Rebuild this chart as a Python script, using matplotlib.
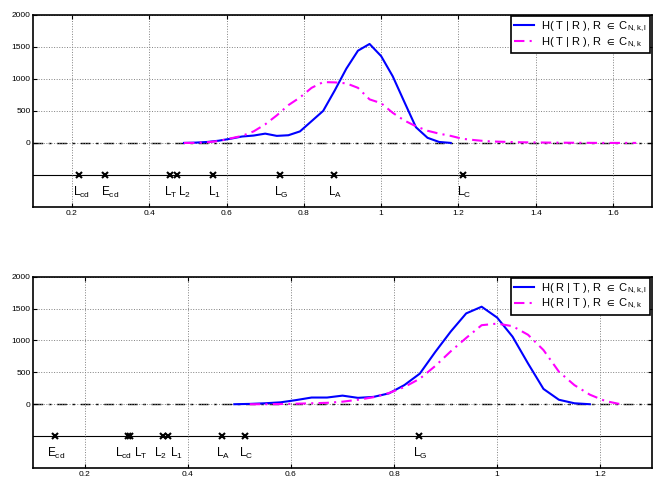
import numpy as np
import matplotlib
matplotlib.use('Agg')
import matplotlib.pyplot as plt

plt.rcParams['font.family'] = ['Liberation Sans', 'DejaVu Sans']
plt.rcParams['mathtext.default'] = 'regular'

# --- top panel: H(T|R) ---
top_x_kl = [0.49, 0.52, 0.55, 0.58, 0.61, 0.64, 0.67, 0.70, 0.73, 0.76, 0.79, 0.82,
            0.85, 0.88, 0.91, 0.94, 0.97, 1.00, 1.03, 1.06, 1.09, 1.12, 1.15, 1.18]
top_y_kl = [0, 5, 15, 35, 65, 100, 115, 145, 110, 120, 180, 340,
            500, 820, 1160, 1440, 1545, 1355, 1040, 640, 245, 80, 15, 0]
top_x_k = [0.49, 0.52, 0.55, 0.58, 0.61, 0.64, 0.67, 0.70, 0.73, 0.76, 0.79, 0.82,
           0.85, 0.88, 0.91, 0.94, 0.97, 1.00, 1.03, 1.06, 1.09, 1.12, 1.15, 1.18,
           1.21, 1.24, 1.27, 1.30, 1.33, 1.36, 1.39, 1.42, 1.45, 1.48, 1.51, 1.54,
           1.57, 1.60, 1.63, 1.66]
top_y_k = [0, 0, 10, 30, 70, 110, 180, 290, 430, 590, 710, 860,
           950, 945, 930, 860, 680, 620, 470, 350, 260, 190, 145, 110,
           65, 45, 28, 20, 15, 10, 8, 6, 4, 3, 2, 1,
           0, 0, 0, 0]
top_names = ['L_{cd}', 'E_{cd}', 'L_T', 'L_2', 'L_1', 'L_G', 'L_A', 'L_C']
top_pos = [0.218, 0.286, 0.454, 0.473, 0.566, 0.738, 0.878, 1.212]
top_xticks = [0.2, 0.4, 0.6, 0.8, 1.0, 1.2, 1.4, 1.6]

# --- bottom panel: H(R|T) ---
bot_x_kl = [0.49, 0.52, 0.55, 0.58, 0.61, 0.64, 0.67, 0.70, 0.73, 0.76, 0.79, 0.82,
            0.85, 0.88, 0.91, 0.94, 0.97, 1.00, 1.03, 1.06, 1.09, 1.12, 1.15, 1.18]
bot_y_kl = [0, 5, 15, 30, 65, 105, 105, 135, 100, 115, 170, 300,
            480, 820, 1140, 1425, 1530, 1360, 1060, 640, 240, 70, 15, 0]
bot_x_k = [0.52, 0.55, 0.58, 0.61, 0.64, 0.67, 0.70, 0.73, 0.76, 0.79, 0.82, 0.85,
           0.88, 0.91, 0.94, 0.97, 1.00, 1.03, 1.06, 1.09, 1.12, 1.15, 1.18, 1.21, 1.24]
bot_y_k = [0, 0, 3, 8, 15, 22, 40, 70, 110, 175, 270, 400,
           600, 830, 1040, 1240, 1265, 1225, 1090, 850, 510, 300, 150, 50, 0]
bot_names = ['E_{cd}', 'L_{cd}', 'L_T', 'L_2', 'L_1', 'L_A', 'L_C', 'L_G']
bot_pos = [0.143, 0.283, 0.288, 0.352, 0.362, 0.466, 0.511, 0.848]
bot_xticks = [0.2, 0.4, 0.6, 0.8, 1.0, 1.2]

yticks = [0, 500, 1000, 1500, 2000]

# label nudges in pixels (hand placed in the original)
top_offs = [-6, -4, -6, 1, -5, -6, -6, -6]
bot_offs = [-8, -13, 4, -9, 2, -6, -6, -6]


def panel(ax, xa, ya, xb, yb, names, pos, offs, xmax, xticks, lab):
    ax.plot(xa, ya, color='blue', lw=1.5, label=r'H( %s ), R $\in$ C$_{N,k,l}$' % lab)
    ax.plot(xb, yb, color='magenta', lw=1.5, ls=(0, (5, 2.5, 1, 2.5)),
            label=r'H( %s ), R $\in$ C$_{N,k}$' % lab)
    ax.axhline(0, color='black', lw=1, ls=(0, (7, 4, 2, 4)), zorder=1)
    ax.axhline(-500, color='black', lw=0.8, zorder=1)
    ax.plot(pos, [-500] * len(pos), 'x', color='black', ms=5, mew=1.5)
    for n, p, o in zip(names, pos, offs):
        ax.annotate('$%s$' % n, xy=(p, -500), xytext=(o, -10),
                    textcoords='offset pixels', ha='left', va='top', fontsize=8.5)
    ax.set_xlim(0.1, xmax)
    ax.set_ylim(-1000, 2000)
    ax.set_xticks(xticks)
    ax.set_xticklabels(['%g' % t for t in xticks])
    ax.set_yticks(yticks)
    ax.grid(True, ls=':', color='gray', lw=0.7)
    ax.tick_params(direction='in', top=True, right=True, labelsize=6, length=3, pad=2)
    for s in ax.spines.values():
        s.set_linewidth(1.2)
    leg = ax.legend(loc='upper right', fontsize=8, fancybox=False, framealpha=1,
                    edgecolor='black', borderaxespad=0.15, handlelength=1.8,
                    handletextpad=0.6, labelspacing=0.1, borderpad=0.3)
    leg.get_frame().set_linewidth(1.2)


fig = plt.figure(figsize=(6.53, 4.78), dpi=100)
ax1 = fig.add_axes([0.051, 0.567, 0.947, 0.402])
ax2 = fig.add_axes([0.051, 0.021, 0.947, 0.400])

panel(ax1, top_x_kl, top_y_kl, top_x_k, top_y_k, top_names, top_pos, top_offs,
      1.7, top_xticks, 'T | R')
panel(ax2, bot_x_kl, bot_y_kl, bot_x_k, bot_y_k, bot_names, bot_pos, bot_offs,
      1.3, bot_xticks, 'R | T')

fig.savefig('out.png', dpi=100)
